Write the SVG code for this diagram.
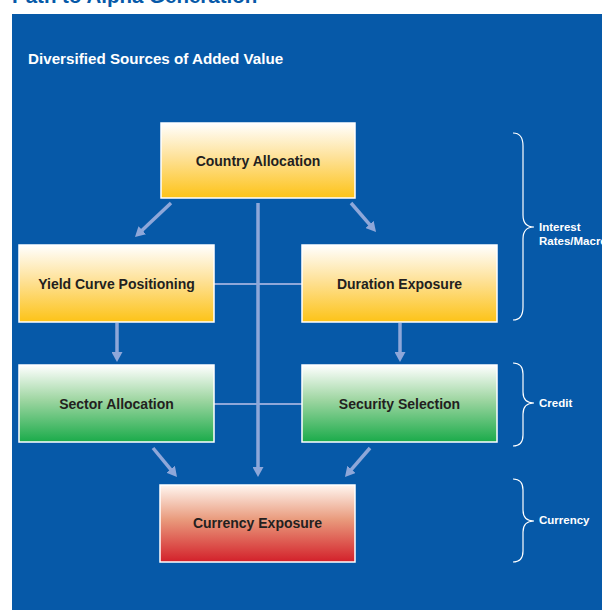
<svg xmlns="http://www.w3.org/2000/svg" width="602" height="610" viewBox="0 0 602 610">
  <style>
    .panel { fill: #0659a8; }
    .box { stroke: #ffffff; stroke-width: 1.5; }
    .label { font-family: "Liberation Sans", Arial, sans-serif; font-weight: bold; font-size: 14px; fill: #231f20; text-anchor: middle; }
    .heading { font-family: "Liberation Sans", Arial, sans-serif; font-weight: bold; font-size: 15.2px; fill: #ffffff; }
    .side { font-family: "Liberation Sans", Arial, sans-serif; font-weight: bold; font-size: 11.5px; fill: #ffffff; }
    .link { stroke: #8ea7d9; stroke-width: 3.5; fill: none; }
    .tie { stroke: #8ea7d9; stroke-width: 2; fill: none; }
    .brace { stroke: #ffffff; stroke-width: 1.2; fill: none; }
  </style>
  <defs>
    <linearGradient id="gYellow" x1="0" y1="0" x2="0" y2="1">
      <stop offset="0" stop-color="#ffffff"/>
      <stop offset="0.45" stop-color="#fee29a"/>
      <stop offset="1" stop-color="#fdc317"/>
    </linearGradient>
    <linearGradient id="gGreen" x1="0" y1="0" x2="0" y2="1">
      <stop offset="0" stop-color="#ffffff"/>
      <stop offset="0.45" stop-color="#9fd6a2"/>
      <stop offset="1" stop-color="#1aab4a"/>
    </linearGradient>
    <linearGradient id="gRed" x1="0" y1="0" x2="0" y2="1">
      <stop offset="0" stop-color="#fff6f0"/>
      <stop offset="0.45" stop-color="#e99a7c"/>
      <stop offset="1" stop-color="#d3202a"/>
    </linearGradient>
    <marker id="arrow" markerUnits="userSpaceOnUse" markerWidth="10" markerHeight="11" refX="2" refY="5.5" orient="auto">
      <path d="M0,0 L10,5.5 L0,11 z" fill="#8ea7d9"/>
    </marker>
  </defs>

  <!-- page heading (runs off the top edge) -->
  <text x="12" y="3" font-family="'Liberation Sans', Arial, sans-serif" font-weight="bold" font-size="20.5" fill="#0659a8">Path to Alpha Generation</text>

  <!-- blue panel -->
  <rect class="panel" x="12" y="14" width="590" height="596"/>
  <text class="heading" x="28" y="64">Diversified Sources of Added Value</text>

  <!-- connectors -->
  <g id="connectors">
    <line class="tie" x1="214" y1="284" x2="302" y2="284"/>
    <line class="tie" x1="214" y1="404" x2="302" y2="404"/>
    <line class="link" x1="171" y1="203" x2="140.8" y2="231.5" marker-end="url(#arrow)"/>
    <line class="link" x1="351" y1="203" x2="370.8" y2="225.9" marker-end="url(#arrow)"/>
    <line class="link" x1="258" y1="203" x2="258" y2="469" marker-end="url(#arrow)"/>
    <line class="link" x1="117" y1="323" x2="117" y2="354" marker-end="url(#arrow)"/>
    <line class="link" x1="400" y1="323" x2="400" y2="354" marker-end="url(#arrow)"/>
    <line class="link" x1="153" y1="448" x2="171.9" y2="470.8" marker-end="url(#arrow)"/>
    <line class="link" x1="370" y1="448" x2="350.2" y2="470.9" marker-end="url(#arrow)"/>
  </g>

  <!-- nodes -->
  <g id="country-allocation">
    <rect class="box" x="161" y="123" width="194" height="75" fill="url(#gYellow)"/>
    <text class="label" x="258" y="166">Country Allocation</text>
  </g>
  <g id="yield-curve-positioning">
    <rect class="box" x="19" y="245" width="195" height="77" fill="url(#gYellow)"/>
    <text class="label" x="116.5" y="289">Yield Curve Positioning</text>
  </g>
  <g id="duration-exposure">
    <rect class="box" x="302" y="245" width="195" height="77" fill="url(#gYellow)"/>
    <text class="label" x="399.5" y="289">Duration Exposure</text>
  </g>
  <g id="sector-allocation">
    <rect class="box" x="19" y="365" width="195" height="77" fill="url(#gGreen)"/>
    <text class="label" x="116.5" y="409">Sector Allocation</text>
  </g>
  <g id="security-selection">
    <rect class="box" x="302" y="365" width="195" height="77" fill="url(#gGreen)"/>
    <text class="label" x="399.5" y="409">Security Selection</text>
  </g>
  <g id="currency-exposure">
    <rect class="box" x="160" y="485" width="195" height="77" fill="url(#gRed)"/>
    <text class="label" x="257.5" y="528">Currency Exposure</text>
  </g>

  <!-- braces grouping the rows -->
  <g id="brace-interest">
    <path class="brace" d="M513,133 Q523,133 523,146 L523,215 Q523,227 534,227 Q523,227 523,239 L523,307 Q523,320 513,320"/>
    <text class="side" x="539" y="231">Interest</text>
    <text class="side" x="539" y="245">Rates/Macro</text>
  </g>
  <g id="brace-credit">
    <path class="brace" d="M513,363 Q523,363 523,374 L523,392 Q523,403 534,403 Q523,403 523,414 L523,435 Q523,446 513,446"/>
    <text class="side" x="539" y="407">Credit</text>
  </g>
  <g id="brace-currency">
    <path class="brace" d="M513,479 Q523,479 523,490 L523,510 Q523,521 534,521 Q523,521 523,532 L523,551 Q523,562 513,562"/>
    <text class="side" x="539" y="524">Currency</text>
  </g>
</svg>
